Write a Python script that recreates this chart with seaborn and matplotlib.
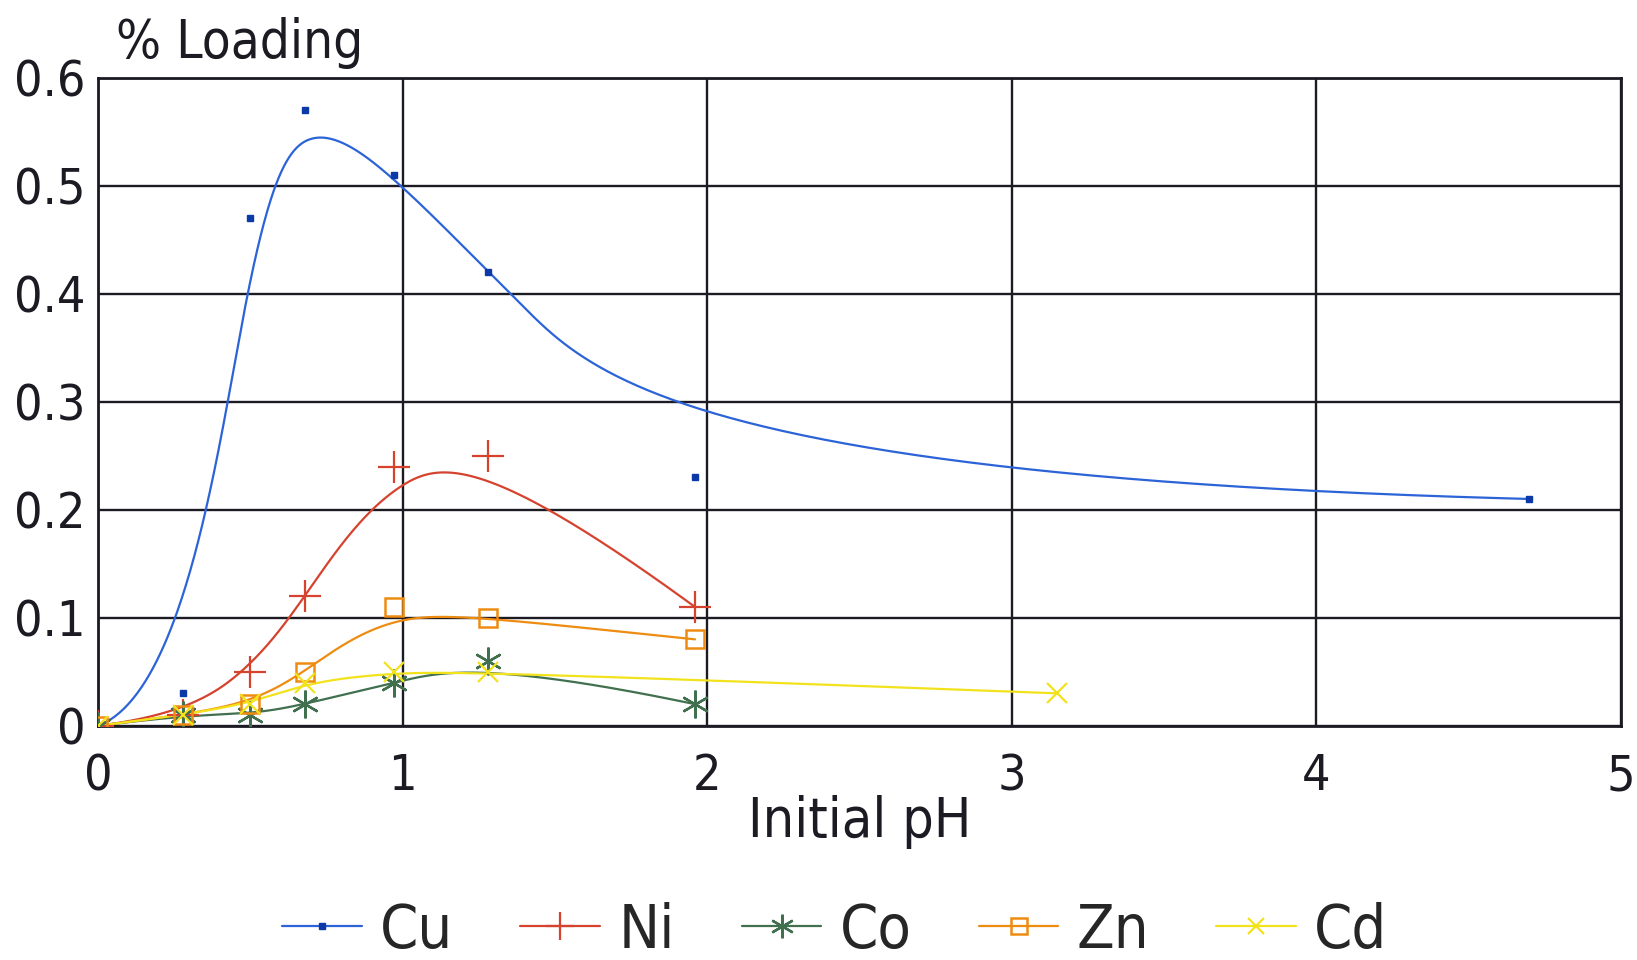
import numpy as np
import matplotlib
matplotlib.use("Agg")
import matplotlib.pyplot as plt
from matplotlib.lines import Line2D
import seaborn as sns

# Metal loading versus initial pH
ph = [0.0, 0.28, 0.5, 0.68, 0.97, 1.28, 1.96]
cu_ph = [0.0, 0.28, 0.5, 0.68, 0.97, 1.28, 1.96, 4.7]
cu = [0.0, 0.03, 0.47, 0.57, 0.51, 0.42, 0.23, 0.21]
ni = [0.0, 0.01, 0.05, 0.12, 0.24, 0.25, 0.11]
co = [0.0, 0.01, 0.01, 0.02, 0.04, 0.06, 0.02]
zn = [0.0, 0.01, 0.02, 0.05, 0.11, 0.10, 0.08]
cd_ph = [0.0, 0.28, 0.5, 0.68, 0.97, 1.28, 3.15]
cd = [0.0, 0.01, 0.02, 0.04, 0.05, 0.05, 0.03]

x_ticks = [0, 1, 2, 3, 4, 5]
y_ticks = [0.0, 0.1, 0.2, 0.3, 0.4, 0.5, 0.6]
y_tick_labels = ["0", "0.1", "0.2", "0.3", "0.4", "0.5", "0.6"]


def bspline_curve(xs, ys, degree=3, n=500):
    """Clamped uniform B-spline using the measured points as control points."""
    P = np.column_stack([xs, ys]).astype(float)
    m = len(P)
    k = min(degree, m - 1)
    inner = np.arange(1, m - k) / (m - k)
    knots = np.concatenate([np.zeros(k + 1), inner, np.ones(k + 1)])
    u = np.linspace(0.0, 1.0, n)
    nb = len(knots) - 1
    N = np.zeros((n, nb))
    for i in range(nb):
        N[:, i] = (knots[i] <= u) & (u < knots[i + 1])
    last = max(i for i in range(nb) if knots[i] < knots[i + 1])
    N[-1, :] = 0.0
    N[-1, last] = 1.0
    for d in range(1, k + 1):
        M = np.zeros((n, nb - d))
        for i in range(nb - d):
            a = knots[i + d] - knots[i]
            b = knots[i + d + 1] - knots[i + 1]
            left = (u - knots[i]) / a * N[:, i] if a > 0 else 0.0
            right = (knots[i + d + 1] - u) / b * N[:, i + 1] if b > 0 else 0.0
            M[:, i] = left + right
        N = M
    C = N @ P
    return C[:, 0], C[:, 1]


sns.set_style("white")
plt.rcParams["font.family"] = ["DejaVu Sans"]
plt.rcParams["font.stretch"] = "condensed"

INK = "#1c1a22"

fig = plt.figure(figsize=(16.37, 9.6), dpi=100)
ax = fig.add_axes([0.06, 0.244, 0.93, 0.675])

series = [
    ("Cu", cu_ph, cu, "#2c64d8", dict(marker="s", ms=5, mfc="#0b3aa8", mec="#0b3aa8")),
    ("Ni", ph, ni, "#d5432f", dict(marker="+", ms=23, mew=1.6)),
    ("Co", ph, co, "#41704f", dict(marker=(6, 2, 0), ms=20, mew=1.7)),
    ("Zn", ph, zn, "#ee8c12", dict(marker="s", ms=13.5, mfc="none", mew=1.8)),
    ("Cd", cd_ph, cd, "#f2e21c", dict(marker="x", ms=14, mew=1.6)),
]

handles = []
for name, xs, ys, col, mk in series:
    gx, gy = bspline_curve(xs, ys)
    sns.lineplot(x=gx, y=gy, color=col, lw=1.6, ax=ax, sort=False, estimator=None)
    mkw = dict(mk)
    mkw.setdefault("mec", col)
    ax.plot(xs, ys, ls="none", color=col, zorder=4, **mkw)
    lk = dict(mk)
    lk["ms"] = mk["ms"] * 0.85
    lk.setdefault("mec", col)
    handles.append(Line2D([], [], color=col, lw=1.6, **lk))

ax.set_xlim(0, 5)
ax.set_ylim(0, 0.6)
ax.set_xticks(x_ticks)
ax.set_xticklabels([str(v) for v in x_ticks])
ax.set_yticks(y_ticks)
ax.set_yticklabels(y_tick_labels)
ax.grid(True, color=INK, lw=1.7)
ax.set_axisbelow(True)
for sp in ax.spines.values():
    sp.set_color(INK)
    sp.set_linewidth(2.0)
ax.tick_params(axis="both", length=0, labelsize=36, colors=INK)
ax.tick_params(axis="x", pad=19)
ax.tick_params(axis="y", pad=9)

ax.set_xlabel("Initial pH", fontsize=40, color=INK, labelpad=-4)
ax.set_ylabel("")
ax.text(0.012, 1.03, "% Loading", transform=ax.transAxes, fontsize=38,
        color=INK, ha="left", va="baseline")

fig.legend(handles, ["Cu", "Ni", "Co", "Zn", "Cd"], loc="center",
           bbox_to_anchor=(0.51, 0.03), ncol=5, frameon=False, fontsize=44,
           handlelength=1.3, handletextpad=0.3, columnspacing=1.1)

fig.savefig("out.png", dpi=100, facecolor="white")
